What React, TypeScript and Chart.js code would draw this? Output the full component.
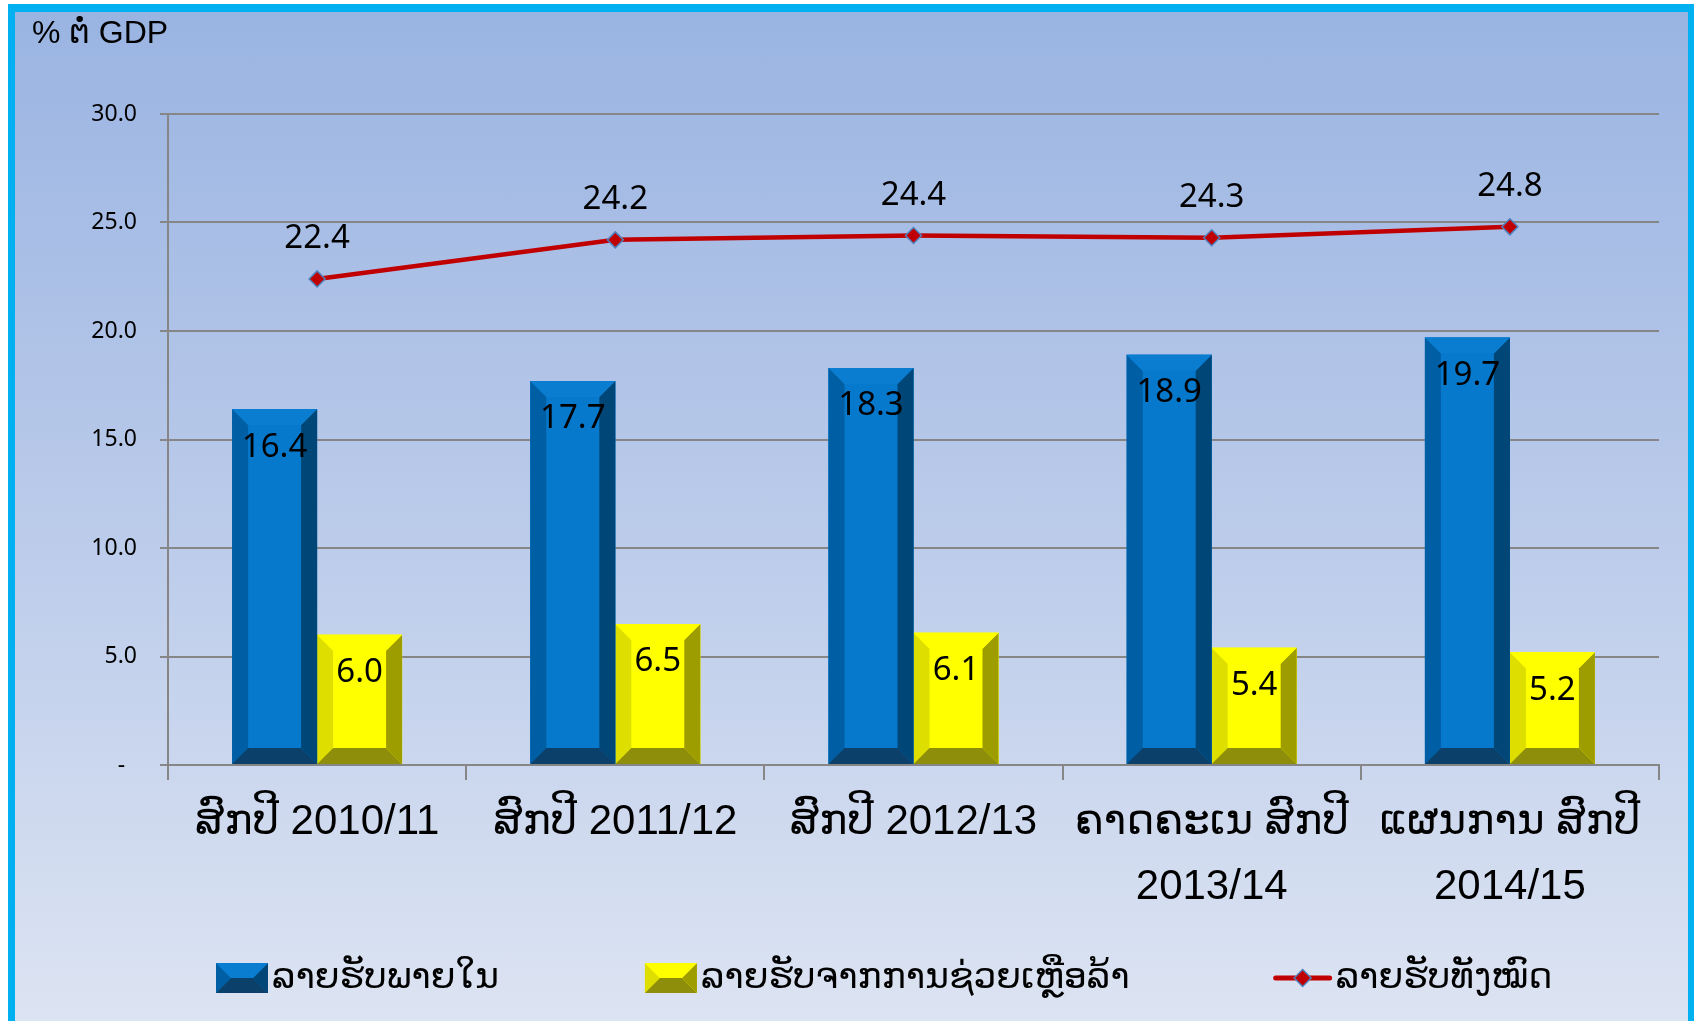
import React, { useEffect, useRef } from 'react';
import { Chart, registerables } from 'chart.js';

Chart.register(...registerables);

// ---------- data ----------
const categories: (string | string[])[] = [
  'ສົກປີ 2010/11',
  'ສົກປີ 2011/12',
  'ສົກປີ 2012/13',
  ['ຄາດຄະເນ ສົກປີ', '2013/14'],
  ['ແຜນການ ສົກປີ', '2014/15'],
];
const domesticRevenue = [16.4, 17.7, 18.3, 18.9, 19.7];
const grantRevenue = [6.0, 6.5, 6.1, 5.4, 5.2];
const totalRevenue = [22.4, 24.2, 24.4, 24.3, 24.8];
const seriesNames = ['ລາຍຮັບພາຍໃນ', 'ລາຍຮັບຈາກການຊ່ວຍເຫຼືອລ້າ', 'ລາຍຮັບທັງໝົດ'];
const yTickValues = [0, 5, 10, 15, 20, 25, 30];
const yAxisTitle = '% ຕໍ່ GDP';

// ---------- styles ----------
const BLUE = { face: '#0679CC', top: '#0A7DD0', left: '#005EA5', right: '#004677', bottom: '#0B406A' };
const YELLOW = { face: '#FFFF00', top: '#FFFF00', left: '#DEDE00', right: '#9D9D00', bottom: '#8E8E0A' };
const LINE_RED = '#C00000';
const MARKER_BORDER = '#4F81BD';
const GRID = '#868686';
const LAO_FONT = "'Liberation Sans', 'DejaVu Sans', sans-serif";
const NUM_FONT = "'Noto Sans', 'Liberation Sans', sans-serif";

type Pal = typeof BLUE;

function drawBevel(ctx: CanvasRenderingContext2D, l: number, t: number, r: number, b: number, bev: number, pal: Pal) {
  const w = r - l;
  const h = b - t;
  const k = Math.min(bev, w / 2, h / 2);
  const poly = (pts: number[][], color: string) => {
    ctx.beginPath();
    ctx.moveTo(pts[0][0], pts[0][1]);
    for (let i = 1; i < pts.length; i++) ctx.lineTo(pts[i][0], pts[i][1]);
    ctx.closePath();
    ctx.fillStyle = color;
    ctx.fill();
  };
  ctx.save();
  poly([[l, t], [r, t], [r, b], [l, b]], pal.face);
  poly([[l, t], [l + k, t + k], [l + k, b - k], [l, b]], pal.left);
  poly([[r, t], [r - k, t + k], [r - k, b - k], [r, b]], pal.right);
  poly([[l, t], [r, t], [r - k, t + k], [l + k, t + k]], pal.top);
  poly([[l, b], [r, b], [r - k, b - k], [l + k, b - k]], pal.bottom);
  ctx.restore();
}

function drawDiamond(ctx: CanvasRenderingContext2D, x: number, y: number, r: number) {
  ctx.beginPath();
  ctx.moveTo(x, y - r);
  ctx.lineTo(x + r, y);
  ctx.lineTo(x, y + r);
  ctx.lineTo(x - r, y);
  ctx.closePath();
  ctx.fillStyle = LINE_RED;
  ctx.fill();
  ctx.lineWidth = 1.5;
  ctx.strokeStyle = MARKER_BORDER;
  ctx.stroke();
}

const bevelPlugin = {
  id: 'bevelBars',
  afterDatasetDraw(chart: any, args: any) {
    const ds = chart.data.datasets[args.index];
    if (!ds.bevel) return;
    const ctx = chart.ctx;
    args.meta.data.forEach((el: any) => {
      const p = el.getProps(['x', 'y', 'base', 'width'], true);
      const l = p.x - p.width / 2;
      const r = p.x + p.width / 2;
      const t = Math.min(p.y, p.base);
      const b = Math.max(p.y, p.base);
      drawBevel(ctx, l, t, r, b, 16, ds.bevel);
    });
  },
};

const labelPlugin = {
  id: 'valueLabels',
  afterDatasetsDraw(chart: any) {
    const ctx = chart.ctx;
    ctx.save();
    ctx.font = `33px ${NUM_FONT}`;
    ctx.fillStyle = '#000';
    ctx.textAlign = 'center';
    ctx.textBaseline = 'middle';
    chart.data.datasets.forEach((ds: any, i: number) => {
      const meta = chart.getDatasetMeta(i);
      meta.data.forEach((el: any, j: number) => {
        const v = ds.data[j];
        const p = el.getProps(['x', 'y'], true);
        const ty = ds.type === 'line' ? p.y - 40 : p.y + 38;
        ctx.fillText(Number(v).toFixed(1), p.x, ty);
      });
    });
    ctx.restore();
  },
};

const decorPlugin = {
  id: 'decor',
  afterDraw(chart: any) {
    const ctx = chart.ctx;
    ctx.save();
    // y-axis unit title
    ctx.font = `32px ${LAO_FONT}`;
    ctx.fillStyle = '#000';
    ctx.textAlign = 'left';
    ctx.textBaseline = 'middle';
    ctx.fillText(yAxisTitle, 32, 34);

    // legend
    const ly = 978;
    let x = 216;
    const gap = 146;
    ctx.font = `36px ${LAO_FONT}`;
    chart.data.datasets.forEach((ds: any) => {
      if (ds.bevel) {
        drawBevel(ctx, x, ly - 15, x + 52, ly + 15, 16, ds.bevel);
      } else {
        ctx.beginPath();
        ctx.moveTo(x, ly);
        ctx.lineTo(x + 54, ly);
        ctx.lineWidth = 5;
        ctx.lineCap = 'round';
        ctx.strokeStyle = ds.borderColor;
        ctx.stroke();
        drawDiamond(ctx, x + 27, ly, 8.5);
      }
      const tx = x + (ds.bevel ? 56 : 60);
      ctx.fillStyle = '#000';
      ctx.fillText(ds.label, tx, ly);
      x = tx + ctx.measureText(ds.label).width + gap;
    });
    ctx.restore();
  },
};

export default function App() {
  const ref = useRef<HTMLCanvasElement | null>(null);

  useEffect(() => {
    if (!ref.current) return;
    const chart = new Chart(ref.current, {
      type: 'bar',
      data: {
        labels: categories as any,
        datasets: [
          {
            label: seriesNames[0],
            data: domesticRevenue,
            backgroundColor: BLUE.face,
            borderWidth: 0,
            categoryPercentage: 0.57,
            barPercentage: 1,
            order: 1,
            bevel: BLUE,
          } as any,
          {
            label: seriesNames[1],
            data: grantRevenue,
            backgroundColor: YELLOW.face,
            borderWidth: 0,
            categoryPercentage: 0.57,
            barPercentage: 1,
            order: 1,
            bevel: YELLOW,
          } as any,
          {
            type: 'line',
            label: seriesNames[2],
            data: totalRevenue,
            borderColor: LINE_RED,
            borderWidth: 4.5,
            tension: 0,
            pointStyle: 'rectRot',
            pointRadius: 8,
            pointBackgroundColor: LINE_RED,
            pointBorderColor: MARKER_BORDER,
            pointBorderWidth: 1.5,
            order: 0,
          } as any,
        ],
      },
      options: {
        responsive: false,
        animation: false,
        devicePixelRatio: 1,
        layout: { padding: { left: 16, right: 35, top: 114, bottom: 100 } },
        plugins: { legend: { display: false }, tooltip: { enabled: false } },
        scales: {
          x: {
            offset: true,
            grid: {
              offset: true,
              drawOnChartArea: false,
              drawTicks: true,
              tickLength: 15,
              color: GRID,
              lineWidth: 2,
            },
            border: { color: GRID, width: 2 },
            ticks: {
              color: '#000',
              font: { family: LAO_FONT, size: 42, lineHeight: 1.55 },
              padding: 10,
              maxRotation: 0,
              autoSkip: false,
            },
            afterFit: (s: any) => {
              s.height = 156;
            },
          },
          y: {
            min: 0,
            max: 30,
            afterBuildTicks: (s: any) => {
              s.ticks = yTickValues.map((v) => ({ value: v }));
            },
            ticks: {
              callback: (v: any) => (Number(v) === 0 ? '-  ' : Number(v).toFixed(1)),
              font: { family: NUM_FONT, size: 23 },
              color: '#000',
              padding: 23,
            },
            grid: { color: GRID, lineWidth: 2, tickLength: 8, drawTicks: true },
            border: { color: GRID, width: 2 },
            afterFit: (s: any) => {
              s.width = 152;
            },
          },
        },
      } as any,
      plugins: [bevelPlugin, labelPlugin, decorPlugin],
    });
    return () => chart.destroy();
  }, []);

  return (
    <div style={{ position: 'absolute', left: 0, top: 0, width: 1694, height: 1021, overflow: 'hidden', background: '#fff' }}>
      <div
        style={{
          position: 'absolute',
          left: 8,
          top: 4,
          width: 1686,
          height: 1040,
          boxSizing: 'border-box',
          borderLeft: '7px solid #00B0F0',
          borderTop: '8px solid #00B0F0',
          borderRight: '6px solid #00B0F0',
          background: 'linear-gradient(180deg, #9AB4E2 0%, #BBCBEA 50%, #DEE5F3 100%)',
        }}
      />
      <canvas ref={ref} width={1694} height={1021} style={{ position: 'absolute', left: 0, top: 0, width: 1694, height: 1021 }} />
    </div>
  );
}
